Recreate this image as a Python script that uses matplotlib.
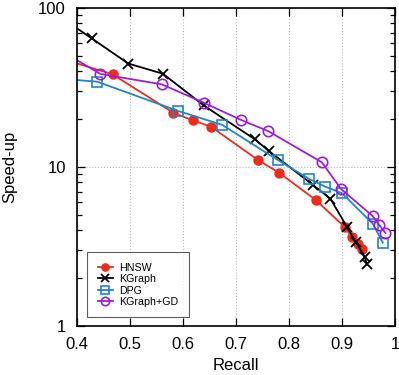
import numpy as np
import matplotlib
matplotlib.use("Agg")
import matplotlib.pyplot as plt
from matplotlib.ticker import LogLocator, NullFormatter

plt.rcParams['font.family'] = ['Liberation Sans', 'DejaVu Sans']

# data (first point of each lies left of the axis)
hnsw_recall = [0.36, 0.467, 0.582, 0.618, 0.653, 0.741, 0.782, 0.850, 0.906, 0.919, 0.930, 0.937]
hnsw_speed = [49.2, 38.3, 21.9, 19.7, 17.9, 11.1, 9.17, 6.22, 4.17, 3.63, 3.30, 3.07]

kgraph_recall = [0.36, 0.428, 0.497, 0.562, 0.639, 0.736, 0.762, 0.846, 0.878, 0.909, 0.926, 0.943, 0.947]
kgraph_speed = [91.8, 64.3, 44.7, 38.6, 24.4, 14.9, 12.6, 7.67, 6.32, 4.22, 3.37, 2.72, 2.44]

dpg_recall = [0.36, 0.438, 0.591, 0.674, 0.780, 0.838, 0.868, 0.900, 0.958, 0.977]
dpg_speed = [36.1, 34.4, 22.5, 18.4, 11.0, 8.41, 7.53, 6.84, 4.40, 3.34]

kgd_recall = [0.36, 0.444, 0.560, 0.640, 0.709, 0.761, 0.862, 0.898, 0.958, 0.970, 0.982]
kgd_speed = [56.3, 38.5, 33.1, 25.3, 19.8, 16.8, 10.7, 7.28, 4.91, 4.33, 3.85]

xticks = [0.4, 0.5, 0.6, 0.7, 0.8, 0.9, 1.0]
xlabels = ['0.4', '0.5', '0.6', '0.7', '0.8', '0.9', '1']

fig = plt.figure(figsize=(3.99, 3.75), dpi=100)
ax = fig.add_axes([0.193, 0.1307, 0.797, 0.848])

ax.plot(hnsw_recall, hnsw_speed, '-o', color='#ee2c1c', lw=1.3, ms=6.5, label='HNSW')
ax.plot(kgraph_recall, kgraph_speed, '-x', color='black', lw=1.3, ms=7, mew=1.3, label='KGraph')
ax.plot(dpg_recall, dpg_speed, '-s', color='#1f86c8', lw=1.3, ms=7, mfc='none', mew=1.2, label='DPG')
ax.plot(kgd_recall, kgd_speed, '-o', color='#9b1ee0', lw=1.3, ms=7.5, mfc='none', mew=1.2, label='KGraph+GD')

ax.set_yscale('log')
ax.set_xlim(0.4, 1.0)
ax.set_ylim(1, 100)

ax.set_xticks(xticks)
ax.set_xticklabels(xlabels)
ax.set_yticks([1, 10, 100])
ax.set_yticklabels(['1', '10', '100'])
ax.yaxis.set_minor_locator(LogLocator(base=10, subs=np.arange(2, 10)))
ax.yaxis.set_minor_formatter(NullFormatter())

for s in ax.spines.values():
    s.set_linewidth(1.2)

ax.tick_params(which='both', direction='in', top=True, right=True, labelsize=12)
ax.tick_params(which='major', length=6, width=0.9)
ax.tick_params(which='minor', length=3.5, width=0.9)
ax.tick_params(axis='x', pad=8)
ax.tick_params(axis='y', pad=8)

ax.grid(True, which='major', linestyle=':', color='#b8b8b8', lw=0.8)

ax.set_xlabel('Recall', fontsize=12, labelpad=4)
ax.set_ylabel('Speed-up', fontsize=12, labelpad=15)

leg = ax.legend(loc='lower left', bbox_to_anchor=(0.025, 0.02), fontsize=7.7, frameon=True,
                fancybox=False, edgecolor='#333333', handlelength=1.4, markerscale=0.8,
                labelspacing=0.12, borderpad=1.0, handletextpad=0.6, borderaxespad=0.2)
leg.get_frame().set_linewidth(0.8)

fig.savefig('out.png', dpi=100)
